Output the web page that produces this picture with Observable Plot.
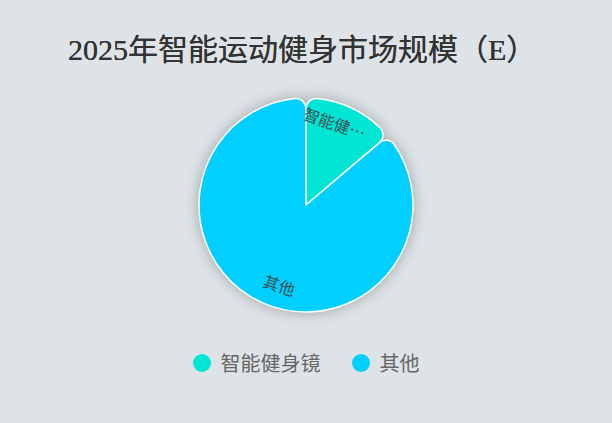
<!DOCTYPE html>
<html>
<head>
<meta charset="utf-8">
<script src="https://cdn.jsdelivr.net/npm/d3@7"></script>
<script src="https://cdn.jsdelivr.net/npm/@observablehq/plot@0.6"></script>
<style>
  html, body { margin: 0; padding: 0; }
  body { width: 612px; height: 423px; background: #dde3e6; position: relative; overflow: hidden;
         font-family: "Noto Sans CJK SC", "Noto Sans", sans-serif; }
  #title { position: absolute; left: 68px; top: 33px; font-size: 30px; line-height: 34px; color: #333;
           font-family: "Liberation Serif", "Noto Sans CJK SC", serif; white-space: nowrap;
           text-shadow: 0 0 0.6px #333; }
  #chart { position: absolute; left: 0; top: 80px; }
  #legend { position: absolute; left: 0; width: 612px; top: 349px; display: flex; justify-content: center;
            align-items: center; gap: 31px; font-size: 20px; color: #666; line-height: 28px; }
  .item { display: flex; align-items: center; gap: 10px; }
  .sw { width: 18px; height: 18px; border-radius: 50%; display: inline-block; }
</style>
</head>
<body>
<div id="title"></div>
<div id="chart"></div>
<div id="legend"></div>
<script>
const titleText = "2025年智能运动健身市场规模（E）";
const categories = ["智能健身镜", "其他"];
const shares = [13.8, 86.2];
const colors = ["#00e5d4", "#00cfff"];

const W = 612, H = 260;
const R = 107;           // pie radius in pixel-like units
const CY = 125;          // pie centre within svg

document.getElementById("title").textContent = titleText;

const data = categories.map((c, i) => ({category: c, value: shares[i]}));
const arcs = d3.pie().sort(null).value(d => d.value)(data);

const truncate = s => s.length > 3 ? s.slice(0, 3) + "…" : s;

const labels = arcs.map(a => {
  const mid = (a.startAngle + a.endAngle) / 2 - 6 * Math.PI / 180;
  const rr = R * 0.8;
  let deg = mid * 180 / Math.PI;
  let rot = deg > 90 && deg < 270 ? deg - 180 : deg;
  return {x: rr * Math.sin(mid), y: -rr * Math.cos(mid), text: truncate(a.data.category), rotate: rot};
});

const arcMark = (index, {x, y}) => {
  const cx = x(0), cy = y(0), r = x(R) - x(0);
  const g = d3.create("svg:g")
    .attr("transform", `translate(${cx},${cy})`)
    .style("filter", "drop-shadow(0px 0px 7px rgba(0,0,0,0.28))");
  const arcGen = d3.arc().innerRadius(0).outerRadius(r).cornerRadius(10);
  g.selectAll("path").data(arcs).join("path")
    .attr("d", arcGen)
    .attr("fill", (d, i) => colors[i])
    .attr("stroke", "#ffffff")
    .attr("stroke-width", 1.5)
    .attr("stroke-linejoin", "round");
  return g.node();
};

const chart = Plot.plot({
  width: W, height: H,
  margin: 0,
  style: {background: "transparent", overflow: "visible"},
  x: {domain: [-W / 2, W / 2], range: [0, W], axis: null},
  y: {domain: [-CY, H - CY], range: [0, H], axis: null},
  marks: [
    arcMark,
    Plot.text(labels, {
      x: "x", y: "y", text: "text", rotate: "rotate",
      fill: "#3f4f55", fontSize: 16,
      fontFamily: "Noto Sans CJK SC"
    })
  ]
});
document.getElementById("chart").appendChild(chart);

const legend = d3.select("#legend");
categories.forEach((c, i) => {
  const it = legend.append("div").attr("class", "item");
  it.append("span").attr("class", "sw").style("background", colors[i]);
  it.append("span").text(c);
});
</script>
</body>
</html>
